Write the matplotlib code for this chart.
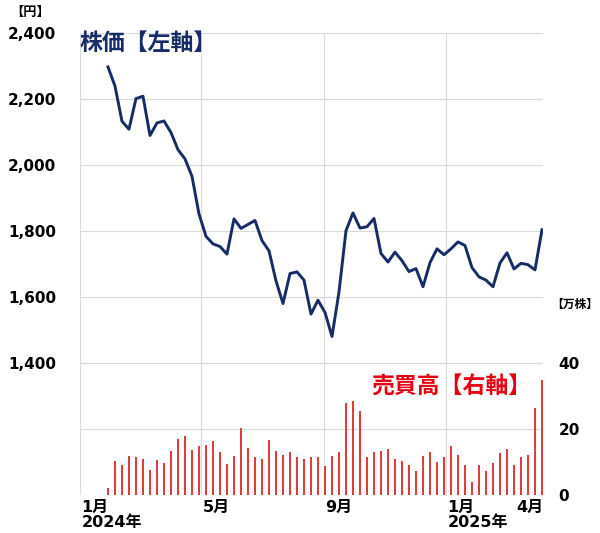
import pandas as pd
import matplotlib.pyplot as plt
import matplotlib.dates as mdates

# 週次データ（2024年1月末〜2025年4月）
dates = pd.date_range('2024-01-29', periods=63, freq='7D')

price = [2298, 2240, 2133, 2109, 2202, 2209, 2090, 2128, 2134, 2099,
         2047, 2019, 1966, 1852, 1784, 1761, 1753, 1730, 1837, 1808,
         1820, 1832, 1771, 1740, 1649, 1580, 1671, 1676, 1651, 1548,
         1590, 1553, 1480, 1615, 1801, 1855, 1809, 1813, 1838, 1732,
         1706, 1736, 1710, 1677, 1686, 1631, 1704, 1746, 1728, 1746,
         1767, 1756, 1689, 1661, 1651, 1631, 1703, 1734, 1685, 1702,
         1698, 1682, 1804]

volume = [2.0, 10.3, 8.9, 11.7, 11.3, 10.9, 7.6, 10.5, 9.7, 13.3,
          17.0, 17.8, 13.7, 14.7, 15.1, 16.3, 12.9, 9.3, 11.7, 20.1,
          14.1, 11.5, 10.9, 16.6, 13.2, 12.0, 13.0, 11.3, 10.7, 11.3,
          11.3, 8.7, 11.6, 12.9, 27.9, 28.3, 25.5, 11.3, 12.9, 13.3,
          13.8, 10.7, 10.2, 9.1, 7.1, 11.7, 12.9, 10.0, 11.5, 14.8,
          12.0, 9.0, 3.7, 9.1, 7.1, 9.6, 12.7, 14.0, 9.0, 11.5,
          12.0, 26.2, 34.7]

left_ticks = [1000, 1200, 1400, 1600, 1800, 2000, 2200, 2400]
left_labels = ['', '', '1,400', '1,600', '1,800', '2,000', '2,200', '2,400']
right_ticks = [0, 20, 40]
month_ticks = pd.to_datetime(['2024-01-01', '2024-05-01', '2024-09-01', '2025-01-01'])

navy = '#172c66'
red = '#e60012'
grid_c = '#d9d9d9'
cjk = ['Noto Sans CJK JP', 'DejaVu Sans']
tick_font = ['DejaVu Sans', 'Noto Sans CJK JP']

fig = plt.figure(figsize=(6, 5.33), dpi=100)
ax = fig.add_axes([0.1333, 0.0719, 0.7717, 0.8656])
ax2 = ax.twinx()

# 株価（左軸）
ax.plot(dates, price, color=navy, lw=2.1, zorder=3)
ax.set_ylim(1000, 2400)
ax.set_yticks(left_ticks)
ax.set_yticklabels(left_labels, fontsize=11, fontweight='bold', family=tick_font)
ax.tick_params(axis='y', length=0, pad=17)

ax.set_xlim(pd.Timestamp('2024-01-01'), pd.Timestamp('2025-04-08'))
ax.set_xticks(month_ticks)
ax.set_xticklabels([])
ax.tick_params(axis='x', length=0)
ax.grid(True, color=grid_c, lw=0.8)
ax.set_axisbelow(True)

# 売買高（右軸）
ax2.bar(dates, volume, width=1.2, color='#e23b3b', zorder=2)
ax2.set_ylim(0, 140)
ax2.set_yticks(right_ticks)
ax2.set_yticklabels([str(t) for t in right_ticks], fontsize=11,
                    fontweight='bold', family=tick_font)
ax2.tick_params(axis='y', length=0, pad=11)

for a in (ax, ax2):
    for s in a.spines.values():
        s.set_visible(False)

# 月ラベル
month_labels = [('2024-01-01', '1月\n2024年'), ('2024-05-01', '5月'),
                ('2024-09-01', '9月'), ('2025-01-01', '1月\n2025年')]
for d, lab in month_labels:
    ax.annotate(lab, xy=(mdates.date2num(pd.Timestamp(d)), 0),
                xycoords=('data', 'axes fraction'), xytext=(1, -4),
                textcoords='offset points', ha='left', va='top',
                fontsize=11.5, fontweight='bold', family=tick_font,
                linespacing=1.0)
ax.annotate('4月', xy=(1, 0), xycoords='axes fraction', xytext=(0, -4),
            textcoords='offset points', ha='right', va='top',
            fontsize=11.5, fontweight='bold', family=tick_font)

# 単位
fig.text(10 / 600, 1 - 12 / 533, '【円】', fontsize=9.5, fontweight='bold',
         family=cjk, va='center', ha='left')
fig.text(598 / 600, 1 - 304 / 533, '【万株】', fontsize=8.5, fontweight='bold',
         family=cjk, va='center', ha='right')

# 凡例テキスト
ax2.text(0.0, 0.979, '株価【左軸】', transform=ax2.transAxes, color=navy,
         fontsize=16.5, fontweight='bold', family=cjk, ha='left', va='center')
ax2.text(0.976, 0.233, '売買高【右軸】', transform=ax2.transAxes, color=red,
         fontsize=16.5, fontweight='bold', family=cjk, ha='right', va='center')

fig.savefig('out.png', dpi=100)
